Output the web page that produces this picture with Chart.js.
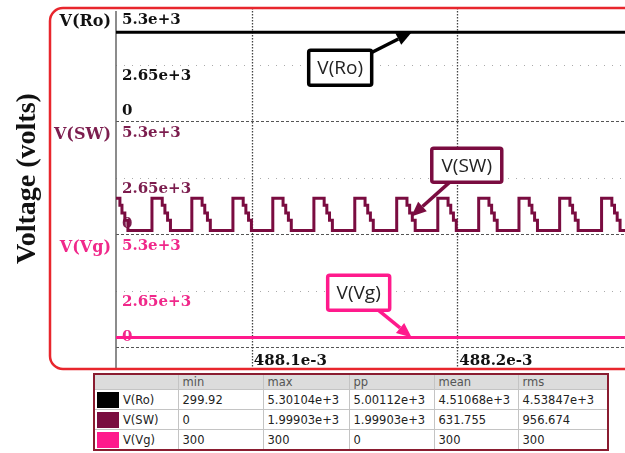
<!DOCTYPE html>
<html>
<head>
<meta charset="utf-8">
<title>Voltage waveforms</title>
<script src="https://cdn.jsdelivr.net/npm/chart.js@4.4.1/dist/chart.umd.min.js"></script>
<style>
  html, body { margin: 0; padding: 0; background: #fff; }
  #wrap { position: relative; width: 625px; height: 453px; overflow: hidden; }
  #plot { position: absolute; left: 0; top: 0; }
  #stats {
    position: absolute; left: 93px; top: 373px; width: 514px;
    border-collapse: collapse; table-layout: fixed;
    border: 2px solid #8a1c30;
    font: 11.5px "DejaVu Sans", sans-serif; color: #222;
  }
  #stats th, #stats td {
    border: 1px solid #c4c4c4; padding: 0 0 0 4px;
    text-align: left; white-space: nowrap; overflow: hidden;
  }
  #stats th { background: #dcdcdc; font-weight: normal; color: #555; height: 14px; line-height: 12px; }
  #stats td { height: 19px; }
  #stats .sw { display: inline-block; width: 22px; height: 16px; vertical-align: middle; margin: 0 4px 0 -2px; }
</style>
</head>
<body>
<div id="wrap">
  <canvas id="plot" width="625" height="372"></canvas>
  <table id="stats"></table>
</div>
<script>
// ---- data (time in ms, voltage in volts) ----
const seriesNames = ['V(Ro)', 'V(SW)', 'V(Vg)'];
const seriesColors = ['#000000', '#7a0c40', '#ff1a8c'];
const labelColors = ['#111111', '#7c1d4e', '#f0288a'];

const roTime = [488.0339, 488.2816];
const roVolt = [4160, 4160];

const vgTime = [488.0339, 488.2816];
const vgVolt = [450, 450];

// switching node: each entry is the time at which the level changes
const swTime = [
  488.0339, 488.0358, 488.0368, 488.0382, 488.0397,
  488.0514, 488.0564, 488.0577, 488.0590, 488.0604,
  488.0708, 488.0758, 488.0771, 488.0784, 488.0798,
  488.0908, 488.0958, 488.0971, 488.0984, 488.0998,
  488.1102, 488.1152, 488.1165, 488.1178, 488.1192,
  488.1302, 488.1352, 488.1365, 488.1378, 488.1392,
  488.1501, 488.1551, 488.1564, 488.1577, 488.1591,
  488.1705, 488.1755, 488.1768, 488.1781, 488.1795,
  488.1905, 488.1955, 488.1968, 488.1981, 488.1995,
  488.2104, 488.2154, 488.2167, 488.2180, 488.2194,
  488.2300, 488.2350, 488.2363, 488.2376, 488.2390,
  488.2498, 488.2548, 488.2561, 488.2574, 488.2588,
  488.2702, 488.2752, 488.2765, 488.2778, 488.2792,
  488.2816
];
const swVolt = [
  1680, 1350, 980, 650, 170,
  1680, 1350, 980, 650, 170,
  1680, 1350, 980, 650, 170,
  1680, 1350, 980, 650, 170,
  1680, 1350, 980, 650, 170,
  1680, 1350, 980, 650, 170,
  1680, 1350, 980, 650, 170,
  1680, 1350, 980, 650, 170,
  1680, 1350, 980, 650, 170,
  1680, 1350, 980, 650, 170,
  1680, 1350, 980, 650, 170,
  1680, 1350, 980, 650, 170,
  1680, 1350, 980, 650, 170,
  170
];

const voltTicks = [0, 2650, 5300];
const voltTickLabels = ['0', '2.65e+3', '5.3e+3'];
const timeTicks = [488.1, 488.2];
const timeTickLabels = ['488.1e-3', '488.2e-3'];
const timeRange = [488.0339, 488.2816];

const statHeads = ['min', 'max', 'pp', 'mean', 'rms'];
const roStats = ['299.92', '5.30104e+3', '5.00112e+3', '4.51068e+3', '4.53847e+3'];
const swStats = ['0', '1.99903e+3', '1.99903e+3', '631.755', '956.674'];
const vgStats = ['300', '300', '0', '300', '300'];

// ---- measurement table ----
(function buildTable() {
  const tbl = document.getElementById('stats');
  const widths = [84, 85, 86, 85, 84, 90];
  let html = '<colgroup>' + widths.map(w => '<col style="width:' + w + 'px">').join('') + '</colgroup>';
  html += '<tr><th></th>' + statHeads.map(h => '<th>' + h + '</th>').join('') + '</tr>';
  [roStats, swStats, vgStats].forEach((row, i) => {
    html += '<tr><td><span class="sw" style="background:' + seriesColors[i] + '"></span>' + seriesNames[i] + '</td>' +
      row.map(v => '<td>' + v + '</td>').join('') + '</tr>';
  });
  tbl.innerHTML = html;
})();

// ---- chart ----
const panelAxes = ['yRo', 'ySW', 'yVg'];
const serif = '"DejaVu Serif", serif';

const callouts = [
  { text: 'V(Ro)', color: '#000000', axis: 'yRo', boxT: 488.1430, boxV: 2500, w: 63, h: 35, tail: [31, -15], tipT: 488.1778, tipV: 4160 },
  { text: 'V(SW)', color: '#7a0c40', axis: 'ySW', boxT: 488.2046, boxV: 3230, w: 70, h: 34, tail: [-17, 17], tipT: 488.1776, tipV: 820 },
  { text: 'V(Vg)', color: '#ff1a8c', axis: 'yVg', boxT: 488.1520, boxV: 2550, w: 62, h: 35, tail: [19, 17], tipT: 488.1778, tipV: 450 }
];

function line(ctx, x1, y1, x2, y2) {
  ctx.beginPath(); ctx.moveTo(x1, y1); ctx.lineTo(x2, y2); ctx.stroke();
}

const scopeDecor = {
  id: 'scopeDecor',
  beforeDatasetsDraw(chart) {
    const { ctx, chartArea: a, scales } = chart;
    const frameBottom = chart.height - 3;
    ctx.save();

    // panel separators and mid-level guides
    panelAxes.forEach(id => {
      const s = scales[id];
      ctx.lineWidth = 1;
      ctx.strokeStyle = '#555';
      ctx.setLineDash([3, 2]);
      const y0 = Math.round(s.getPixelForValue(voltTicks[0])) + 0.5;
      line(ctx, a.left, y0, a.right, y0);
      ctx.strokeStyle = '#aaa';
      ctx.setLineDash([1, 7]);
      const ym = Math.round(s.getPixelForValue(voltTicks[1])) + 0.5;
      line(ctx, a.left, ym, a.right, ym);
    });

    // time grid
    ctx.strokeStyle = '#444';
    ctx.lineWidth = 1.3;
    ctx.setLineDash([1.5, 1.5]);
    timeTicks.forEach(t => {
      const px = Math.round(scales.x.getPixelForValue(t)) + 0.5;
      line(ctx, px, a.top, px, frameBottom);
    });

    // left axis
    ctx.setLineDash([]);
    ctx.strokeStyle = '#666';
    ctx.lineWidth = 1.5;
    line(ctx, a.left, a.top + 3, a.left, frameBottom);

    // per-panel tick labels and series names
    ctx.textBaseline = 'middle';
    panelAxes.forEach((id, i) => {
      const s = scales[id];
      ctx.fillStyle = labelColors[i];
      ctx.font = 'bold 15px ' + serif;
      ctx.textAlign = 'left';
      voltTicks.forEach((v, k) => {
        const py = s.getPixelForValue(v) + (v === 0 ? -10 : 12);
        ctx.fillText(voltTickLabels[k], a.left + 6, py);
      });
      ctx.font = 'bold 16px ' + serif;
      ctx.textAlign = 'right';
      ctx.fillText(seriesNames[i], a.left - 5, s.getPixelForValue(voltTicks[2]) + 14);
    });

    // time labels
    ctx.font = 'bold 15px ' + serif;
    ctx.fillStyle = '#111';
    ctx.textAlign = 'left';
    timeTicks.forEach((t, k) => {
      ctx.fillText(timeTickLabels[k], scales.x.getPixelForValue(t) + 2, a.bottom + 14);
    });

    // axis title
    ctx.save();
    ctx.translate(28, (a.top + a.bottom) / 2 + 1);
    ctx.rotate(-Math.PI / 2);
    ctx.font = 'bold 28px "Liberation Serif", serif';
    ctx.textAlign = 'center';
    ctx.fillStyle = '#111';
    ctx.fillText('Voltage (volts)', 0, 0);
    ctx.restore();

    ctx.restore();
  },
  afterDatasetsDraw(chart) {
    const { ctx, scales } = chart;
    ctx.save();
    callouts.forEach(c => {
      const s = scales[c.axis];
      const cx = scales.x.getPixelForValue(c.boxT);
      const cy = s.getPixelForValue(c.boxV);
      const tx = scales.x.getPixelForValue(c.tipT);
      const ty = s.getPixelForValue(c.tipV);
      const sx = cx + c.tail[0], sy = cy + c.tail[1];
      const ang = Math.atan2(ty - sy, tx - sx);
      const head = 15, half = 6.5;
      const bx = tx - head * Math.cos(ang), by = ty - head * Math.sin(ang);

      ctx.strokeStyle = c.color;
      ctx.fillStyle = c.color;
      ctx.lineWidth = 3.5;
      ctx.lineCap = 'butt';
      line(ctx, sx, sy, bx, by);
      ctx.beginPath();
      ctx.moveTo(tx, ty);
      ctx.lineTo(bx + half * Math.sin(ang), by - half * Math.cos(ang));
      ctx.lineTo(bx - half * Math.sin(ang), by + half * Math.cos(ang));
      ctx.closePath();
      ctx.fill();

      ctx.beginPath();
      ctx.roundRect(cx - c.w / 2, cy - c.h / 2, c.w, c.h, 2);
      ctx.fillStyle = '#fff';
      ctx.fill();
      ctx.lineWidth = 3.5;
      ctx.stroke();

      ctx.fillStyle = '#222';
      ctx.font = '19px "Open Sans", sans-serif';
      ctx.textAlign = 'center';
      ctx.textBaseline = 'middle';
      ctx.fillText(c.text, cx, cy + 1);
    });

    // outer frame
    ctx.strokeStyle = '#e8262d';
    ctx.lineWidth = 2.5;
    ctx.beginPath();
    ctx.roundRect(50, 8, 640, chart.height - 11, 13);
    ctx.stroke();
    ctx.restore();
  }
};

const hiddenY = {
  type: 'linear', position: 'left', stack: 'volts', stackWeight: 1,
  min: 0, max: 5300,
  ticks: { display: false },
  grid: { display: false, drawTicks: false },
  border: { display: false }
};

new Chart(document.getElementById('plot'), {
  type: 'line',
  data: {
    datasets: [
      {
        label: seriesNames[0], yAxisID: 'yRo',
        data: roTime.map((t, i) => ({ x: t, y: roVolt[i] })),
        borderColor: seriesColors[0], borderWidth: 3
      },
      {
        label: seriesNames[1], yAxisID: 'ySW', stepped: 'before',
        data: swTime.map((t, i) => ({ x: t, y: swVolt[i] })),
        borderColor: seriesColors[1], borderWidth: 3,
        borderJoinStyle: 'miter'
      },
      {
        label: seriesNames[2], yAxisID: 'yVg',
        data: vgTime.map((t, i) => ({ x: t, y: vgVolt[i] })),
        borderColor: seriesColors[2], borderWidth: 3
      }
    ]
  },
  options: {
    responsive: false,
    animation: false,
    elements: { point: { radius: 0, hoverRadius: 0 }, line: { tension: 0, fill: false } },
    layout: { padding: { left: 116, top: 8, right: 0, bottom: 25 } },
    plugins: { legend: { display: false }, tooltip: { enabled: false } },
    events: [],
    scales: {
      x: {
        type: 'linear', min: timeRange[0], max: timeRange[1],
        ticks: { display: false },
        grid: { display: false, drawTicks: false },
        border: { display: false }
      },
      yVg: Object.assign({}, hiddenY),
      ySW: Object.assign({}, hiddenY),
      yRo: Object.assign({}, hiddenY)
    }
  },
  plugins: [scopeDecor]
});
</script>
</body>
</html>
